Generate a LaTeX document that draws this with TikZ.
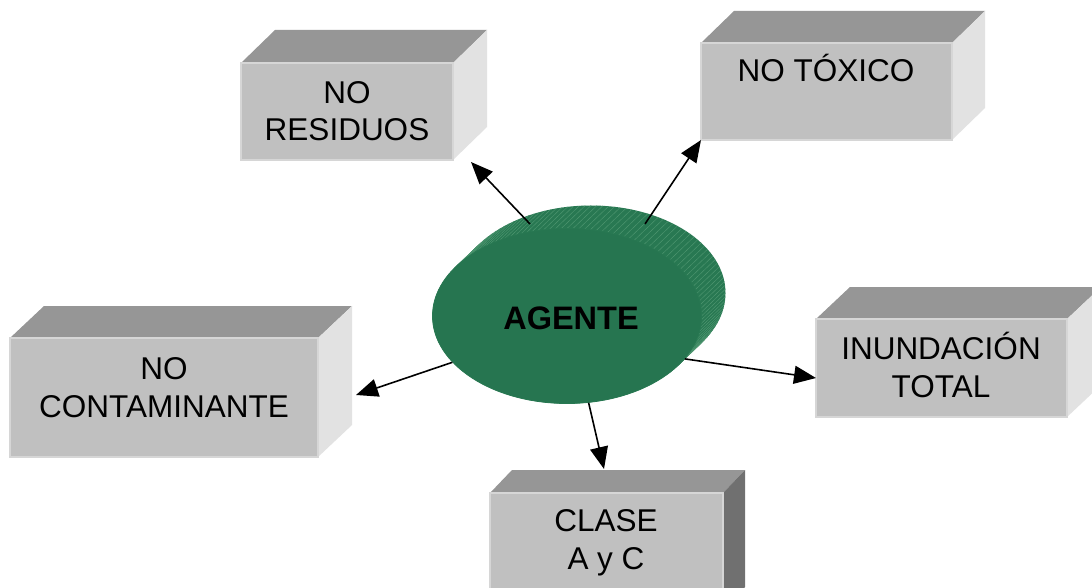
\documentclass[tikz,border=0pt]{standalone}
\usepackage{fontspec}
\setmainfont{Liberation Sans}
\usetikzlibrary{arrows.meta,shapes.geometric}
\definecolor{frontgray}{RGB}{192,192,192}
\definecolor{topgray}{RGB}{150,150,150}
\definecolor{sidelight}{RGB}{226,226,226}
\definecolor{sidedark}{RGB}{112,112,112}
\definecolor{edgegray}{RGB}{214,214,214}
\definecolor{agfront}{RGB}{38,117,80}
\definecolor{agside}{RGB}{40,120,82}
\definecolor{agstripe}{RGB}{78,150,112}
\tikzset{
  face/.style={fill=frontgray, draw=edgegray, line width=1.2pt, inner sep=0pt},
  lbl/.style={font=\fontsize{31.5}{37.5}\selectfont, align=center, inner sep=0pt},
  conn/.style={line width=1.6pt, -{Triangle[length=22pt,width=18pt]}},
}
\newcommand\mycube[8]{%
  \fill[topgray] (#2,#3) -- (#2+#6,#3-#7) -- (#4+#6,#3-#7) -- (#4,#3) -- cycle;
  \fill[#8] (#4,#3) -- (#4+#6,#3-#7) -- (#4+#6,#5-#7) -- (#4,#5) -- cycle;
  \node[face, minimum width=#4-#2, minimum height=#5-#3] (#1) at ({(#2+#4)/2},{(#3+#5)/2}) {};
}
\begin{document}
\begin{tikzpicture}[x=1pt,y=-1pt]
\useasboundingbox (0,0) rectangle (1092,588);
\clip (0,0) rectangle (1092,588);
\fill[white] (0,0) rectangle (1092,588);
% boxes
\mycube{res}{241}{63}{453}{160}{34}{33}{sidelight}
\mycube{tox}{701}{43}{952}{140}{33}{32}{sidelight}
\mycube{cont}{10}{338}{318}{457}{34}{32}{sidelight}
\mycube{inun}{816}{319}{1067}{417}{34}{32}{sidelight}
\mycube{clase}{490}{493}{723}{610}{22}{23}{sidedark}
\node[lbl] (tres) at (347,111) {NO\\RESIDUOS};
\node[lbl] (ttox) at (826,68) {NO TÓXICO};
\node[lbl] (tcont) at (164,387.5) {NO\\CONTAMINANTE};
\node[lbl] (tinun) at (941,365) {INUNDACIÓN\\TOTAL};
\node[lbl] (tclase) at (606,543) {CLASE\\A y C};
% cylinder body
\foreach \t in {0,0.05,...,1.001} {
  \fill[agside] (591-24*\t,293+23*\t) ellipse [x radius=134.5, y radius=87.5];
}
\foreach \a in {-60,-57.5,...,200} {
  \draw[agstripe, line width=0.45pt] ({567+134.5*cos(\a)},{316-87.5*sin(\a)}) -- ({591+134.5*cos(\a)},{293-87.5*sin(\a)});
}
\node[ellipse, fill=agfront, draw=agside, line width=0.8pt, minimum width=269pt, minimum height=175pt, inner sep=0pt] (agente) at (567,316) {};
\node[font=\bfseries\fontsize{32.5}{38}\selectfont, inner sep=0pt] (tag) at (571,318) {AGENTE};
% connectors
\coordinate (s1) at (530,224);
\coordinate (s2) at (645,224);
\coordinate (e1) at (471,162);
\coordinate (e2) at (701,140);
\coordinate (e3) at (356,395);
\coordinate (e4) at (816,378);
\coordinate (e5) at (604,469);
\draw[conn] (s1) -- (e1);
\draw[conn] (s2) -- (e2);
\draw[conn] (agente.202) -- (e3);
\draw[conn] (agente.-20) -- (e4);
\draw[conn] (agente.-76) -- (e5);
\end{tikzpicture}
\end{document}
